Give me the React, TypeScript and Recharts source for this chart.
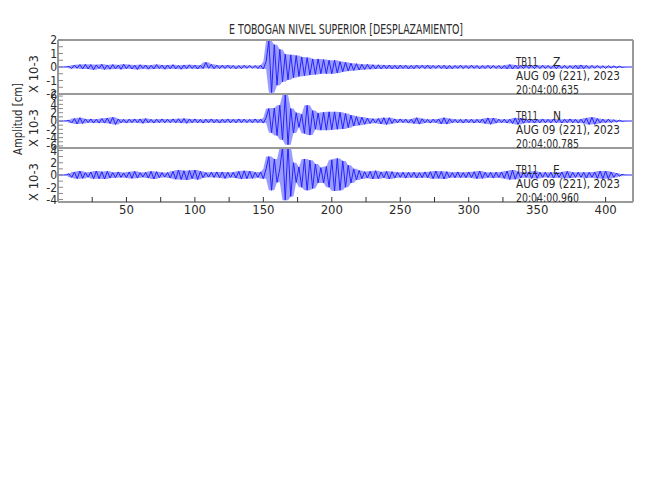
import React from 'react';
import { ComposedChart, Line, Area, XAxis, YAxis } from 'recharts';

const TITLE = 'E TOBOGAN NIVEL SUPERIOR [DESPLAZAMIENTO]';
const STATION = 'TB11';
const DATE_LABEL = 'AUG 09 (221), 2023';
const COMPONENTS = ['Z', 'N', 'E'];
const START_TIMES = ['20:04:00.635', '20:04:00.785', '20:04:00.960'];
const Y_LABEL = 'Amplitud [cm]';
const SCALE_LABEL = 'X 10-3';

const X_DOMAIN = [0, 420];
const X_TICKS = [25, 50, 75, 100, 125, 150, 175, 200, 225, 250, 275, 300, 325, 350, 375, 400];
const X_LABELED = [50, 100, 150, 200, 250, 300, 350, 400];
const SAMPLE_STEP = 2;

const Z_DOMAIN = [-2, 2];
const Z_TICKS = [-2, -1.5, -1, -0.5, 0, 0.5, 1, 1.5, 2];
const Z_LABELED = [-2, -1, 0, 1, 2];
const N_DOMAIN = [-6.5, 6.5];
const N_TICKS = [-6, -5, -4, -3, -2, -1, 0, 1, 2, 3, 4, 5, 6];
const N_LABELED = [-6, -4, -2, 0, 2, 4, 6];
const E_DOMAIN = [-4.4, 4.4];
const E_TICKS = [-4, -3, -2, -1, 0, 1, 2, 3, 4];
const E_LABELED = [-4, -2, 0, 2, 4];

const Z_VALUES = [
  0, 0, 0, 0, 0.05, -0.12, 0.15, -0.1, 0.18, -0.14,
  0.2, -0.15, 0.18, -0.2, 0.16, -0.12, 0.2, -0.18, 0.15, -0.16,
  0.18, -0.14, 0.15, -0.17, 0.2, -0.13, 0.16, -0.15, 0.14, -0.18,
  0.17, -0.12, 0.15, -0.16, 0.13, -0.15, 0.18, -0.12, 0.14, -0.16,
  0.15, -0.13, 0.17, -0.14, 0.12, -0.16, 0.15, -0.13, 0.16, -0.12,
  0.14, -0.15, 0.13, -0.12, 0.35, -0.1, 0.2, -0.13, 0.14, -0.12,
  0.13, -0.12, 0.14, -0.11, 0.12, -0.13, 0.11, -0.12, 0.13, -0.1,
  0.12, -0.1, 0.11, -0.12, 0.13, -0.15, 0.4, 1.95, -1.9, 1.65,
  -1.35, 1.3, -1.1, 0.95, -0.95, 0.9, -0.8, 0.85, -0.7, 0.75,
  -0.65, 0.7, -0.6, 0.6, -0.55, 0.6, -0.5, 0.55, -0.5, 0.5,
  -0.5, 0.5, -0.45, 0.4, -0.35, 0.35, -0.3, 0.28, -0.25, 0.25,
  -0.22, 0.2, -0.18, 0.2, -0.16, 0.17, -0.15, 0.16, -0.14, 0.15,
  -0.13, 0.15, -0.14, 0.13, -0.15, 0.14, -0.12, 0.13, -0.14, 0.12,
  -0.13, 0.14, -0.12, 0.13, -0.12, 0.14, -0.13, 0.12, -0.11, 0.13,
  -0.12, 0.13, -0.14, 0.12, -0.13, 0.12, -0.11, 0.13, -0.12, 0.11,
  -0.12, 0.13, -0.11, 0.12, -0.13, 0.11, -0.12, 0.13, -0.12, 0.12,
  -0.11, 0.12, -0.13, 0.12, -0.14, 0.18, -0.15, 0.14, -0.13, 0.12,
  -0.12, 0.13, -0.11, 0.12, -0.12, 0.11, -0.12, 0.13, -0.11, 0.12,
  -0.12, 0.11, -0.13, 0.12, -0.11, 0.12, -0.12, 0.11, -0.12, 0.13,
  -0.14, 0.15, -0.13, 0.12, -0.11, 0.12, -0.1, 0.11, -0.1, 0.09,
  -0.1, 0.09, -0.08, 0.08, -0.07, 0.06, -0.03, 0, 0, 0,
  0,
];

const N_VALUES = [
  0, 0, 0, 0, 0.2, -0.5, 0.6, -0.7, 0.8, -0.6,
  0.5, -0.4, 0.5, -0.5, 0.45, -0.5, 0.6, -0.5, 0.7, -0.6,
  0.9, -0.85, 0.5, -0.45, 0.4, -0.5, 0.45, -0.4, 0.5, -0.45,
  0.5, -0.55, 0.6, -0.45, 0.4, -0.5, 0.45, -0.4, 0.5, -0.45,
  0.45, -0.4, 0.5, -0.45, 0.55, -0.5, 0.6, -0.55, 0.5, -0.45,
  0.5, -0.45, 0.4, -0.5, 0.45, -0.4, 0.5, -0.45, 0.4, -0.5,
  0.45, -0.4, 0.5, -0.45, 0.4, -0.45, 0.5, -0.4, 0.45, -0.4,
  0.4, -0.45, 0.5, -0.4, 0.45, -0.5, 0.8, 3.0, -2.8, 3.1,
  -3.5, 3.8, -4.5, 6.3, -5.7, 3.0, -2.9, 2.0, -1.5, 1.6,
  -3.0, 3.8, -3.4, 2.5, -2.0, 1.9, -2.2, 2.1, -2.2, 2.2,
  -2.1, 2.2, -2.0, 2.1, -1.9, 1.8, -1.6, 1.4, -1.2, 1.1,
  -1.0, 0.9, -0.8, 0.7, -0.6, 0.55, -0.5, 0.6, -0.7, 0.8,
  -0.85, 0.8, -0.6, 0.5, -0.45, 0.5, -0.4, 0.45, -0.5, 0.45,
  -0.6, 0.8, -0.75, 0.55, -0.45, 0.4, -0.5, 0.45, -0.4, 0.5,
  -0.7, 0.8, -0.75, 0.55, -0.45, 0.4, -0.45, 0.4, -0.5, 0.45,
  -0.4, 0.45, -0.5, 0.4, -0.45, 0.5, -0.6, 0.75, -0.8, 0.7,
  -0.5, 0.45, -0.4, 0.45, -0.5, 0.45, -0.6, 0.75, -0.85, 0.7,
  -0.55, 0.45, -0.4, 0.45, -0.5, 0.4, -0.45, 0.5, -0.45, 0.4,
  -0.45, 0.5, -0.4, 0.45, -0.5, 0.45, -0.4, 0.5, -0.45, 0.4,
  -0.5, 0.45, -0.55, 0.7, -0.85, 0.9, -0.8, 0.6, -0.5, 0.45,
  -0.4, 0.45, -0.35, 0.3, -0.25, 0.2, -0.1, 0, 0, 0,
  0,
];

const E_VALUES = [
  0, 0, 0, 0, 0.2, -0.4, 0.5, -0.6, 0.65, -0.55,
  0.4, -0.35, 0.5, -0.6, 0.65, -0.6, 0.55, -0.65, 0.6, -0.5,
  0.4, -0.45, 0.5, -0.4, 0.35, -0.45, 0.5, -0.55, 0.6, -0.5,
  0.4, -0.35, 0.45, -0.5, 0.6, -0.65, 0.55, -0.45, 0.4, -0.35,
  0.4, -0.5, 0.6, -0.7, 0.8, -0.75, 0.7, -0.8, 0.75, -0.6,
  0.8, -0.75, 0.6, -0.45, 0.4, -0.35, 0.45, -0.4, 0.5, -0.45,
  0.5, -0.55, 0.45, -0.4, 0.45, -0.5, 0.6, -0.65, 0.7, -0.6,
  0.65, -0.55, 0.45, -0.4, 0.5, -0.6, 1.0, 3.0, -2.5, 2.6,
  -1.2, 1.0, 4.6, -4.1, 4.8, -3.5, 2.0, -1.2, 1.3, -2.0,
  2.6, -2.5, 2.4, -2.2, 1.8, -1.3, 1.2, -1.3, 1.4, -2.0,
  2.5, -2.6, 2.7, -2.5, 2.3, -2.0, 1.6, -1.3, 1.0, -0.8,
  0.75, -0.6, 0.55, -0.5, 0.6, -0.65, 0.7, -0.6, 0.5, -0.45,
  0.6, -0.65, 0.55, -0.5, 0.45, -0.4, 0.45, -0.5, 0.45, -0.4,
  0.45, -0.5, 0.4, -0.45, 0.5, -0.45, 0.55, -0.6, 0.65, -0.55,
  0.6, -0.65, 0.55, -0.45, 0.4, -0.45, 0.5, -0.45, 0.4, -0.45,
  0.5, -0.45, 0.55, -0.6, 0.65, -0.55, 0.45, -0.4, 0.45, -0.5,
  0.45, -0.4, 0.5, -0.55, 0.65, -0.75, 0.8, -0.7, 0.55, -0.5,
  0.45, -0.4, 0.5, -0.55, 0.6, -0.55, 0.45, -0.4, 0.45, -0.4,
  0.45, -0.5, 0.45, -0.4, 0.5, -0.55, 0.6, -0.5, 0.45, -0.4,
  0.45, -0.4, 0.45, -0.5, 0.45, -0.4, 0.5, -0.55, 0.65, -0.6,
  0.65, -0.6, 0.5, -0.4, 0.3, -0.2, 0.1, 0, 0, 0,
  0,
];

const FONT = '"Liberation Sans Narrow", "DejaVu Sans Condensed", "Liberation Sans", sans-serif';
const TEXT_COLOR = '#2a2a2a';
const FRAME_COLOR = '#9a9a9a';
const TRACE_COLOR = '#2323ff';

const PLOT_LEFT = 58;
const PLOT_RIGHT = 633;
const PANEL_H = 54;
const PANEL_TOPS = [40, 94, 148];

const PANELS = [
  { values: Z_VALUES, domain: Z_DOMAIN, ticks: Z_TICKS, labeled: Z_LABELED },
  { values: N_VALUES, domain: N_DOMAIN, ticks: N_TICKS, labeled: N_LABELED },
  { values: E_VALUES, domain: E_DOMAIN, ticks: E_TICKS, labeled: E_LABELED },
];

function buildRows(values: number[]) {
  const n = values.length;
  return values.map((v, i) => {
    const a = values[Math.max(0, i - 1)];
    const b = values[Math.min(n - 1, i + 1)];
    return { t: i * SAMPLE_STEP, v, band: [Math.min(a, v, b), Math.max(a, v, b)] };
  });
}

function Panel({ idx }: { idx: number }) {
  const p = PANELS[idx];
  const top = PANEL_TOPS[idx];
  const isLast = idx === PANELS.length - 1;
  const mTop = 10;
  const mBottom = isLast ? 28 : 10;
  const data = buildRows(p.values);
  const tickStyle = { fontSize: 12, fill: TEXT_COLOR, fontFamily: FONT };
  return (
    <div style={{ position: 'absolute', left: 0, top: top - mTop }}>
      <ComposedChart
        width={650}
        height={PANEL_H + mTop + mBottom}
        data={data}
        margin={{ top: mTop - 1, bottom: mBottom - 1, left: PLOT_LEFT - 1, right: 650 - PLOT_RIGHT - 1 }}
      >
        <XAxis
          xAxisId="b"
          dataKey="t"
          type="number"
          domain={X_DOMAIN}
          allowDataOverflow
          ticks={X_TICKS}
          interval={0}
          orientation="bottom"
          height={1}
          tickSize={-5}
          tickMargin={isLast ? 8 : 0}
          tick={isLast ? { fontSize: 13, fill: TEXT_COLOR, fontFamily: FONT } : false}
          tickFormatter={(v: number) => (X_LABELED.includes(v) ? String(v) : '')}
          axisLine={{ stroke: FRAME_COLOR, strokeWidth: 2 }}
          tickLine={{ stroke: '#333' }}
        />
        <XAxis
          xAxisId="t"
          dataKey="t"
          type="number"
          domain={X_DOMAIN}
          allowDataOverflow
          ticks={X_TICKS}
          interval={0}
          orientation="top"
          height={1}
          tickSize={-5}
          tick={false}
          axisLine={{ stroke: FRAME_COLOR, strokeWidth: 2 }}
          tickLine={{ stroke: '#333' }}
        />
        <YAxis
          yAxisId="l"
          type="number"
          domain={p.domain}
          allowDataOverflow
          ticks={p.ticks}
          interval={0}
          orientation="left"
          width={1}
          tickSize={-5}
          tickMargin={6}
          tick={tickStyle}
          tickFormatter={(v: number) => (p.labeled.includes(v) ? String(v) : '')}
          axisLine={{ stroke: FRAME_COLOR, strokeWidth: 2 }}
          tickLine={{ stroke: '#8a8a8a' }}
        />
        <YAxis
          yAxisId="r"
          type="number"
          domain={p.domain}
          allowDataOverflow
          ticks={p.ticks}
          interval={0}
          orientation="right"
          width={1}
          tickSize={-6}
          tick={false}
          axisLine={{ stroke: FRAME_COLOR, strokeWidth: 2 }}
          tickLine={{ stroke: '#8a8a8a' }}
        />
        <Area
          xAxisId="b"
          yAxisId="l"
          dataKey="band"
          type="linear"
          stroke="none"
          fill={TRACE_COLOR}
          fillOpacity={0.45}
          dot={false}
          activeDot={false}
          isAnimationActive={false}
        />
        <Line
          xAxisId="b"
          yAxisId="l"
          dataKey="v"
          type="linear"
          stroke={TRACE_COLOR}
          strokeWidth={1}
          dot={false}
          activeDot={false}
          isAnimationActive={false}
        />
      </ComposedChart>
    </div>
  );
}

export default function App() {
  return (
    <div
      style={{
        position: 'absolute',
        left: 0,
        top: 0,
        width: 650,
        height: 500,
        background: '#fff',
        overflow: 'hidden',
      }}
    >
      {PANELS.map((_, i) => (
        <Panel key={i} idx={i} />
      ))}
      <svg
        width={650}
        height={500}
        style={{ position: 'absolute', left: 0, top: 0, pointerEvents: 'none' }}
      >
        <text
          x={229}
          y={34}
          fontSize={13.5}
          fontFamily={FONT}
          fill={TEXT_COLOR}
          textLength={234}
          lengthAdjust="spacingAndGlyphs"
        >
          {TITLE}
        </text>
        <text
          x={22}
          y={119}
          fontSize={13}
          fontFamily={FONT}
          fill={TEXT_COLOR}
          textAnchor="middle"
          transform="rotate(-90 22 119)"
          textLength={72}
          lengthAdjust="spacingAndGlyphs"
        >
          {Y_LABEL}
        </text>
        {PANEL_TOPS.map((top, i) => {
          const cy = top + PANEL_H / 2 + 7;
          return (
            <g key={i}>
              <text
                x={38}
                y={cy}
                fontSize={12}
                fontFamily={FONT}
                fill={TEXT_COLOR}
                textAnchor="middle"
                transform={`rotate(-90 38 ${cy})`}
                textLength={38}
                lengthAdjust="spacingAndGlyphs"
              >
                {SCALE_LABEL}
              </text>
              <text x={516} y={top + 25.5} fontSize={12} fontFamily={FONT} fill={TEXT_COLOR} textLength={22} lengthAdjust="spacingAndGlyphs">
                {STATION}
              </text>
              <text x={553} y={top + 25.5} fontSize={12} fontFamily={FONT} fill={TEXT_COLOR}>
                {COMPONENTS[i]}
              </text>
              <text x={516} y={top + 40} fontSize={12} fontFamily={FONT} fill={TEXT_COLOR} textLength={104} lengthAdjust="spacingAndGlyphs">
                {DATE_LABEL}
              </text>
              <text x={516} y={top + 54} fontSize={12} fontFamily={FONT} fill={TEXT_COLOR} textLength={63} lengthAdjust="spacingAndGlyphs">
                {START_TIMES[i]}
              </text>
            </g>
          );
        })}
      </svg>
    </div>
  );
}
